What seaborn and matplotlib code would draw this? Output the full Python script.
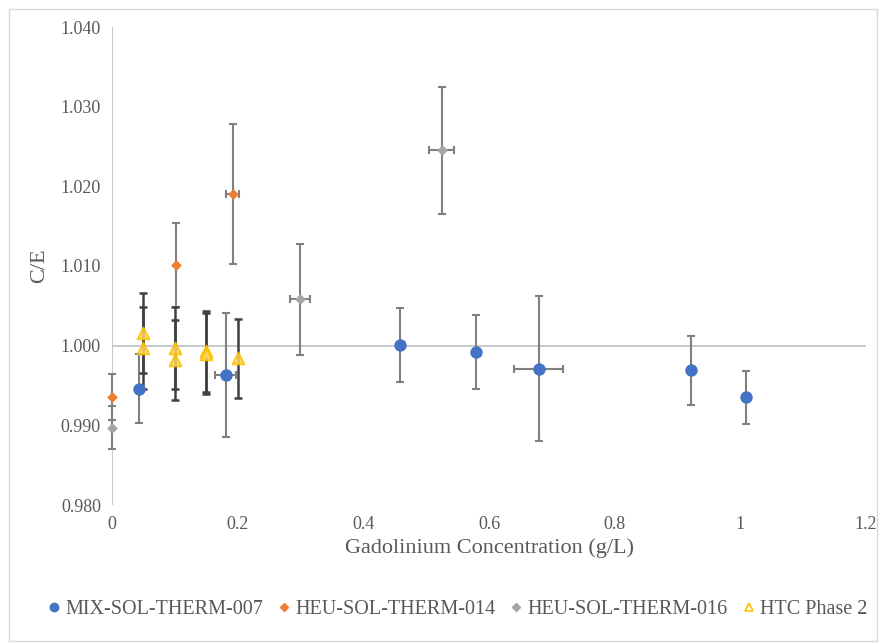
import numpy as np
import pandas as pd
import seaborn as sns
import matplotlib.pyplot as plt
from matplotlib.patches import Rectangle
from matplotlib.lines import Line2D

# MIX-SOL-THERM-007
mix_x = [0.043, 0.181, 0.458, 0.580, 0.679, 0.922, 1.009]
mix_y = [0.9946, 0.9963, 1.0001, 0.9992, 0.9971, 0.9969, 0.9935]
mix_yerr = [0.0043, 0.0078, 0.0046, 0.0046, 0.0091, 0.0043, 0.0033]
mix_xerr = [0.0, 0.017, 0.0, 0.0, 0.039, 0.005, 0.0]

# HEU-SOL-THERM-014
h14_x = [0.0, 0.102, 0.192]
h14_y = [0.9936, 1.0101, 1.0190]
h14_yerr = [0.0029, 0.0053, 0.0088]
h14_xerr = [0.0, 0.0, 0.010]

# HEU-SOL-THERM-016
h16_x = [0.0, 0.299, 0.525]
h16_y = [0.9897, 1.0058, 1.0245]
h16_yerr = [0.0027, 0.0070, 0.0080]
h16_xerr = [0.0, 0.016, 0.020]

# HTC Phase 2
htc_x = [0.05, 0.05, 0.10, 0.10, 0.15, 0.15, 0.20]
htc_y = [1.0016, 0.9997, 0.9997, 0.9982, 0.9993, 0.9990, 0.9984]
htc_yerr = [0.0050, 0.0052, 0.0052, 0.0050, 0.0051, 0.0051, 0.0050]
htc_xerr = [0.0] * 7

SERIES = ["MIX-SOL-THERM-007", "HEU-SOL-THERM-014", "HEU-SOL-THERM-016", "HTC Phase 2"]
COLORS = ["#4472C4", "#ED7D31", "#A5A5A5", "#FFC000"]

rows = []
for name, xs, ys, yes, xes in zip(
        SERIES,
        [mix_x, h14_x, h16_x, htc_x],
        [mix_y, h14_y, h16_y, htc_y],
        [mix_yerr, h14_yerr, h16_yerr, htc_yerr],
        [mix_xerr, h14_xerr, h16_xerr, htc_xerr]):
    for a, b, c, d in zip(xs, ys, yes, xes):
        rows.append({"series": name, "conc": a, "ce": b, "yerr": c, "xerr": d})
df = pd.DataFrame(rows)

sns.set_theme(style="white")
plt.rcParams['font.family'] = ['Liberation Serif', 'DejaVu Serif']

fig = plt.figure(figsize=(8.8, 6.43), dpi=100)
ax = fig.add_axes([112 / 880, 1 - 505 / 643, (866 - 112) / 880, (505 - 27) / 643])

# error bars
for name in SERIES:
    sub = df[df.series == name]
    ecol = "#404040" if name == "HTC Phase 2" else "#808080"
    lw = 1.8 if name == "HTC Phase 2" else 1.5
    eb = ax.errorbar(sub.conc, sub.ce, yerr=sub.yerr, xerr=sub.xerr, fmt="none",
                     ecolor=ecol, elinewidth=lw, capsize=3, capthick=lw, zorder=2)
    for art in eb.lines[1] + eb.lines[2]:
        art.set_clip_on(False)

# markers
marker_map = {SERIES[0]: "o", SERIES[1]: "D", SERIES[2]: "D", SERIES[3]: "^"}
size_map = {SERIES[0]: 80, SERIES[1]: 30, SERIES[2]: 30, SERIES[3]: 70}
for name, col in zip(SERIES, COLORS):
    sub = df[df.series == name]
    if name == "HTC Phase 2":
        sns.scatterplot(data=sub, x="conc", y="ce", marker="^", s=size_map[name],
                        facecolor="#FFD966", edgecolor=col, linewidth=1.5,
                        alpha=0.85, ax=ax, zorder=3, legend=False, clip_on=False)
    else:
        sns.scatterplot(data=sub, x="conc", y="ce", marker=marker_map[name],
                        s=size_map[name], color=col, edgecolor=col,
                        linewidth=0, ax=ax, zorder=3, legend=False, clip_on=False)

ax.axhline(1.0, color="#BFBFBF", lw=1.2, zorder=1)
ax.axvline(0.0, color="#BFBFBF", lw=1.2, zorder=1)

ax.set_xlim(0, 1.2)
ax.set_ylim(0.98, 1.04)
ax.set_xticks(np.arange(0, 1.21, 0.2))
ax.set_xticklabels(["0", "0.2", "0.4", "0.6", "0.8", "1", "1.2"])
ax.set_yticks(np.arange(0.98, 1.0401, 0.01))
ax.set_yticklabels([f"{v:.3f}" for v in np.arange(0.98, 1.0401, 0.01)])
ax.tick_params(axis="both", length=0, labelsize=13, colors="#595959", pad=8)
for s in ax.spines.values():
    s.set_visible(False)
ax.set_xlabel("Gadolinium Concentration (g/L)", fontsize=16, color="#595959", labelpad=4)
ax.set_ylabel("C/E", fontsize=16, color="#595959", labelpad=8)

handles = [
    Line2D([], [], ls="none", marker="o", ms=6, color=COLORS[0], mec=COLORS[0]),
    Line2D([], [], ls="none", marker="D", ms=4, color=COLORS[1], mec=COLORS[1]),
    Line2D([], [], ls="none", marker="D", ms=4, color=COLORS[2], mec=COLORS[2]),
    Line2D([], [], ls="none", marker="^", ms=6, mfc="none", mec=COLORS[3], mew=1.2),
]
fig.legend(handles, SERIES, loc="center", bbox_to_anchor=(0.52, 1 - 609 / 643),
           ncol=4, frameon=False, fontsize=14.5, handletextpad=0.25, columnspacing=0.75,
           handlelength=0.6, labelcolor="#595959")

fig.patches.append(Rectangle((9 / 880, 2 / 643), 868 / 880, 632 / 643,
                             transform=fig.transFigure, fill=False,
                             edgecolor="#D9D9D9", lw=1))

fig.savefig("out.png", dpi=100)
